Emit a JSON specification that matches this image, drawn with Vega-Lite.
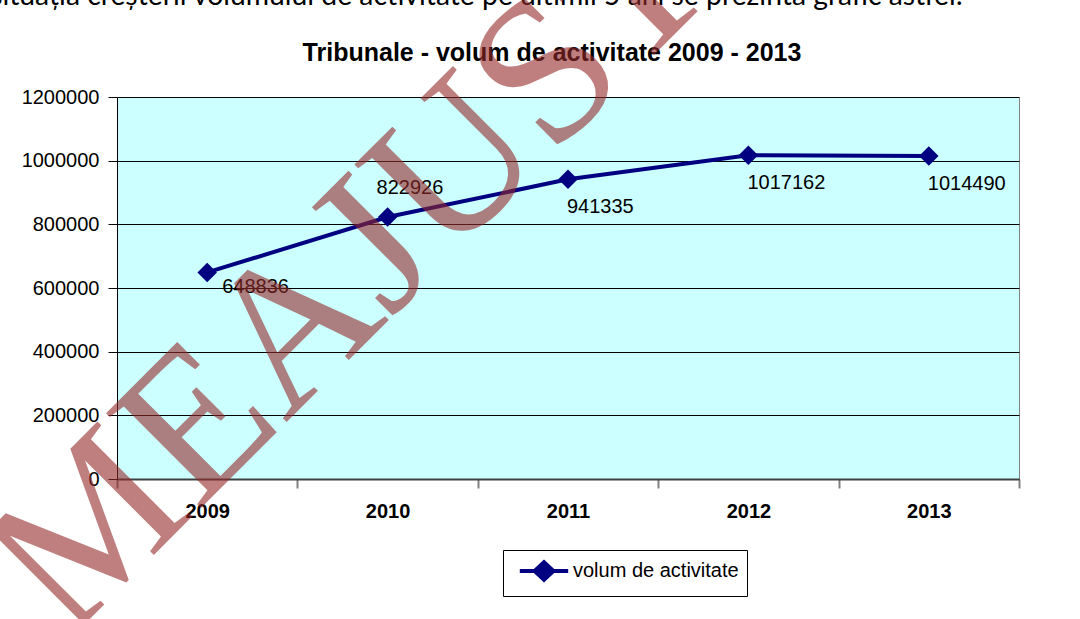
{
  "$schema": "https://vega.github.io/schema/vega-lite/v6.json",
  "width": 902,
  "height": 382,
  "autosize": {"type": "none"},
  "padding": {"left": 117, "top": 97, "right": 61, "bottom": 140},
  "background": "white",
  "config": {"view": {"fill": "#CCFFFF", "stroke": "#808080", "strokeWidth": 1}},
  "datasets": {
    "volum": [
      {"year": "2009", "volum": 648836},
      {"year": "2010", "volum": 822926},
      {"year": "2011", "volum": 941335},
      {"year": "2012", "volum": 1017162},
      {"year": "2013", "volum": 1014490}
    ],
    "heading": [{"year": "2011", "volum": 1200000, "label": "Tribunale - volum de activitate 2009 - 2013"}],
    "intro": [{"year": "2013", "volum": 1200000, "label": "situația creșterii volumului de activitate pe ultimii 5 ani se prezintă grafic astfel:"}],
    "watermark": [{"year": "2010", "volum": 740000, "label": "MEAJUST"}]
  },
  "data": {"name": "volum"},
  "encoding": {
    "x": {
      "field": "year",
      "type": "ordinal",
      "scale": {"type": "band", "paddingInner": 0, "paddingOuter": 0},
      "axis": {
        "title": null,
        "labelAngle": 0,
        "labelFont": "Liberation Sans",
        "labelFontSize": 20,
        "labelFontWeight": "bold",
        "labelColor": "black",
        "labelPadding": 13,
        "tickBand": "extent",
        "tickSize": 9,
        "tickColor": "#808080",
        "tickWidth": 2,
        "domainColor": "#404040",
        "domainWidth": 2,
        "grid": false
      }
    },
    "y": {
      "field": "volum",
      "type": "quantitative",
      "scale": {"domain": [0, 1200000], "nice": false},
      "axis": {
        "title": null,
        "values": [0, 200000, 400000, 600000, 800000, 1000000, 1200000],
        "format": "d",
        "labelFont": "Liberation Sans",
        "labelFontSize": 20,
        "labelColor": "black",
        "labelPadding": 9,
        "tickSize": 9,
        "tickColor": "black",
        "domainColor": "black",
        "grid": true,
        "gridColor": "black",
        "gridWidth": 1,
        "gridOpacity": 1
      }
    }
  },
  "layer": [
    {
      "mark": {"type": "line", "strokeWidth": 4},
      "encoding": {
        "color": {
          "datum": "volum de activitate",
          "type": "nominal",
          "scale": {"range": ["#000080"]},
          "legend": {
            "title": null,
            "orient": "none",
            "legendX": 386,
            "legendY": 453,
            "padding": 8,
            "strokeColor": "black",
            "fillColor": "white",
            "symbolType": "M-2.2,0L-0.85,0L0,-0.8L0.85,0L2.2,0L0.85,0L0,0.8L-0.85,0Z",
            "symbolSize": 484,
            "symbolOffset": 20,
            "symbolStrokeWidth": 4,
            "symbolFillColor": "#000080",
            "symbolStrokeColor": "#000080",
            "labelFont": "Liberation Sans",
            "labelFontSize": 20,
            "labelColor": "black",
            "labelOffset": 16,
            "labelLimit": 0
          }
        }
      }
    },
    {
      "mark": {"type": "point", "shape": "diamond", "filled": true, "size": 380, "color": "#000080", "opacity": 1}
    },
    {
      "transform": [{"filter": "datum.year == '2009'"}],
      "mark": {"type": "text", "align": "left", "baseline": "middle", "dx": 15, "dy": 15, "fontSize": 20, "font": "Liberation Sans", "color": "black"},
      "encoding": {"text": {"field": "volum", "type": "quantitative", "format": "d"}}
    },
    {
      "transform": [{"filter": "datum.year == '2010'"}],
      "mark": {"type": "text", "align": "left", "baseline": "middle", "dx": -11, "dy": -29, "fontSize": 20, "font": "Liberation Sans", "color": "black"},
      "encoding": {"text": {"field": "volum", "type": "quantitative", "format": "d"}}
    },
    {
      "transform": [{"filter": "datum.year != '2009' && datum.year != '2010'"}],
      "mark": {"type": "text", "align": "left", "baseline": "middle", "dx": -1, "dy": 28, "fontSize": 20, "font": "Liberation Sans", "color": "black"},
      "encoding": {"text": {"field": "volum", "type": "quantitative", "format": "d"}}
    },
    {
      "data": {"name": "heading"},
      "mark": {"type": "text", "align": "center", "baseline": "alphabetic", "dx": -16, "dy": -36, "fontSize": 25, "fontWeight": "bold", "font": "Liberation Sans", "color": "black"},
      "encoding": {"text": {"field": "label"}}
    },
    {
      "data": {"name": "intro"},
      "mark": {"type": "text", "align": "right", "baseline": "alphabetic", "dx": 34, "dy": -92, "fontSize": 28.3, "font": "Lato", "color": "black"},
      "encoding": {"text": {"field": "label"}}
    },
    {
      "data": {"name": "watermark"},
      "mark": {"type": "text", "align": "center", "baseline": "middle", "angle": -45, "dx": -46, "dy": -7, "fontSize": 205, "font": "Liberation Serif", "color": "#962B2B", "opacity": 0.6},
      "encoding": {"text": {"field": "label"}}
    }
  ]
}
